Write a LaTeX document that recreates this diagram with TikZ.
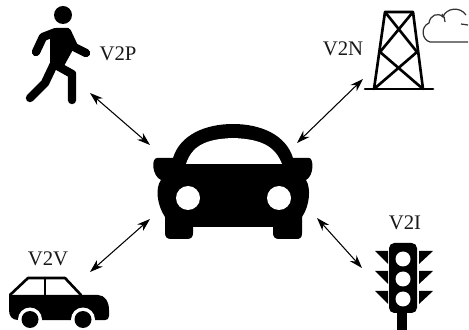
\documentclass[tikz,border=0pt]{standalone}
\usepackage{fontspec}
\setmainfont{Liberation Serif}
\usetikzlibrary{arrows.meta}

\tikzset{
    link/.style={{Stealth[length=7.5pt,width=5pt]}-{Stealth[length=7.5pt,width=5pt]},line width=0.6pt},
    tag/.style={font=\fontsize{11.8}{14}\selectfont,text=black!90},
    limb/.style={line width=4.8pt,line cap=round,line join=round},
    mast/.style={line width=1.5pt,line cap=round,line join=round},
    puff/.style={line width=0.7pt,black!80}
}

\begin{document}
\begin{tikzpicture}[x=0.02cm,y=-0.02cm]
    \useasboundingbox (0,0) rectangle (469,330);
    \fill[white] (0,0) rectangle (469,330);

    % pedestrian
    \fill (63,15) circle (9);
    \fill (50,38) -- (56,28) -- (68,28) -- (75,46) -- (64,66) -- (50,70) -- cycle;
    \draw[limb] (56,32) -- (43,37) -- (36,52);
    \draw[limb] (67,32) -- (74,47) -- (86,53);
    \draw[limb] (54,64) -- (72,74) -- (72,100);
    \draw[limb] (54,64) -- (45,83) -- (30,98);
    \node[tag] (p) at (118,54) {V2P};

    % tower with cloud
    \draw[mast] (365,89) -- (433,89);
    \draw[mast] (374,89) -- (385,12) -- (413,12) -- (423,89);
    \draw[mast] (385,12) -- (417,52) -- (374,89);
    \draw[mast] (413,12) -- (380,52) -- (423,89);
    \draw[puff] (468,42) -- (430,42) .. controls (422,40) and (420,27) .. (429,23)
        .. controls (430,15) and (438,12) .. (443,17)
        .. controls (446,8) and (460,6) .. (466,15);
    \draw[puff] (442,14) .. controls (444,16) and (445,19) .. (445,22);
    \draw[puff] (461,24) -- (468,25);
    \node[tag] (n) at (343,49) {V2N};

    % center car
    \fill (173,158) .. controls (180,135) and (205,124) .. (233,124)
        .. controls (261,124) and (286,135) .. (293,158)
        -- (309,158) .. controls (314,158) and (314,176) .. (306,180)
        .. controls (311,188) and (310,205) .. (302,217)
        -- (302,233) .. controls (302,238) and (300,239) .. (296,239)
        -- (279,239) .. controls (275,239) and (273,237) .. (273,233)
        -- (273,227) -- (193,227) -- (193,233)
        .. controls (193,237) and (191,239) .. (187,239)
        -- (171,239) .. controls (167,239) and (165,237) .. (165,233)
        -- (165,217) .. controls (157,205) and (155,188) .. (161,180)
        .. controls (152,176) and (151,158) .. (157,158) -- cycle;
    \fill[white] (186,164) .. controls (192,146) and (205,139) .. (233,138)
        .. controls (261,139) and (275,146) .. (282,164) -- cycle;
    \fill[white] (188,198) circle (12);
    \fill[white] (279,198) circle (12);

    % small car
    \fill (9,295) -- (98,295) .. controls (105,295) and (109,302) .. (109,310)
        -- (109,316) .. controls (109,319) and (107,320) .. (105,320)
        -- (18,320) .. controls (12,320) and (9,316) .. (9,310) -- cycle;
    \draw[mast] (10,295) -- (28,278) -- (65,278) -- (81,295);
    \draw[mast] (45,278) -- (45,295);
    \foreach \wx in {30,83} {
        \fill[white] (\wx,319.5) circle (12);
        \fill (\wx,319.5) circle (8.5);
    }
    \node[tag] (v) at (48,259) {V2V};

    % traffic light
    \fill (397,310) rectangle (407,330);
    \fill[rounded corners=3pt] (389,243) rectangle (417,313);
    \foreach \ly in {0,20,40} {
        \fill[white] (403,259+\ly) circle (7.5);
        \fill (375,251+\ly) -- (388,251+\ly) -- (388,264+\ly) -- cycle;
        \fill (433,251+\ly) -- (419,251+\ly) -- (419,264+\ly) -- cycle;
    }
    \node[tag] (i) at (405,223) {V2I};

    % links
    \coordinate (pa) at (90,93);
    \coordinate (ca) at (150,145);
    \coordinate (na) at (363,79);
    \coordinate (cb) at (297,143);
    \coordinate (va) at (90,272);
    \coordinate (cc) at (150,219);
    \coordinate (ia) at (362,268);
    \coordinate (cd) at (317,218);
    \draw[link] (pa) -- (ca);
    \draw[link] (na) -- (cb);
    \draw[link] (va) -- (cc);
    \draw[link] (ia) -- (cd);
\end{tikzpicture}
\end{document}
